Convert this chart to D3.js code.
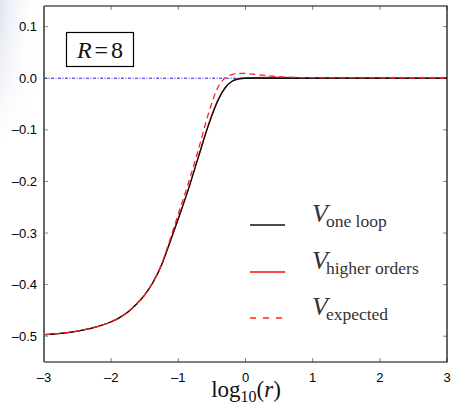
<!DOCTYPE html>
<html><head><meta charset="utf-8">
<script src="https://cdn.jsdelivr.net/npm/d3@7/dist/d3.min.js"></script>
<style>html,body{margin:0;padding:0;background:#fff;}svg{display:block;}</style>
</head><body><svg id="c" width="452" height="405"></svg>
<script>
const logR = [-3, -2.75, -2.5, -2.25, -2, -1.875, -1.75, -1.625, -1.5, -1.375, -1.25, -1.125, -1, -0.85, -0.7, -0.55, -0.4, -0.3, -0.2, -0.1, 0, 0.1, 0.25, 0.5, 0.75, 1, 1.5, 2, 2.5, 3];
const vOneLoop = [-0.497, -0.4945, -0.490, -0.483, -0.472, -0.464, -0.453, -0.438, -0.420, -0.395, -0.362, -0.318, -0.272, -0.215, -0.152, -0.090, -0.040, -0.018, -0.006, -0.001, 0, 0, 0, 0, 0, 0, 0, 0, 0, 0];
const vHigher = [-0.497, -0.4945, -0.490, -0.483, -0.472, -0.464, -0.453, -0.438, -0.420, -0.395, -0.362, -0.318, -0.272, -0.215, -0.152, -0.090, -0.040, -0.018, -0.006, -0.001, 0.0005, 0.001, 0.0015, 0.0015, 0.0013, 0.001, 0.0008, 0.0005, 0.0003, 0.0002];
const vExpected = [-0.497, -0.4945, -0.490, -0.483, -0.472, -0.464, -0.453, -0.438, -0.420, -0.394, -0.360, -0.313, -0.263, -0.203, -0.138, -0.068, -0.015, 0.001, 0.007, 0.0095, 0.0095, 0.008, 0.006, 0.003, 0.0015, 0.001, 0.0007, 0.0005, 0.0003, 0.0002];
const xTicks = [-3, -2, -1, 0, 1, 2, 3];
const yTicks = [0.1, 0.0, -0.1, -0.2, -0.3, -0.4, -0.5];

const svg = d3.select("#c");
const L = 44, R = 447, T = 6, B = 362;
const x = d3.scaleLinear().domain([-3, 3]).range([L, R]);
const y = d3.scaleLinear().domain([-0.55, 0.14]).range([B, T]);

// faint slide background at top-left
const defs = svg.append("defs");
const g1 = defs.append("linearGradient").attr("id", "bg").attr("x1", 0).attr("x2", 1).attr("y1", 0).attr("y2", 0);
g1.append("stop").attr("offset", "0").attr("stop-color", "#dfe3ef");
g1.append("stop").attr("offset", "1").attr("stop-color", "#fff").attr("stop-opacity", 0);
const g2 = defs.append("linearGradient").attr("id", "fade").attr("x1", 0).attr("x2", 0).attr("y1", 0).attr("y2", 1);
g2.append("stop").attr("offset", "0").attr("stop-color", "#fff");
g2.append("stop").attr("offset", "1").attr("stop-color", "#000");
const mask = defs.append("mask").attr("id", "m");
mask.append("rect").attr("x", 0).attr("y", 0).attr("width", 40).attr("height", 140).attr("fill", "url(#fade)");
svg.append("rect").attr("x", 0).attr("y", 0).attr("width", 40).attr("height", 140).attr("fill", "url(#bg)").attr("mask", "url(#m)");

svg.append("rect").attr("x", L).attr("y", T).attr("width", R - L).attr("height", B - T).attr("fill", "#fff");

const tickFont = "Liberation Sans, Arial, Helvetica, sans-serif";
const fmtY = d => (d < 0 ? "\u2013" : "") + Math.abs(d).toFixed(1);
const fmtX = d => (d < 0 ? "\u2013" : "") + Math.abs(d);

// inward ticks on all sides
const tl = 4;
yTicks.forEach(t => {
  svg.append("line").attr("x1", L).attr("x2", L + tl).attr("y1", y(t)).attr("y2", y(t)).attr("stroke", "#888").attr("stroke-width", 1);
  svg.append("line").attr("x1", R).attr("x2", R - tl).attr("y1", y(t)).attr("y2", y(t)).attr("stroke", "#888").attr("stroke-width", 1);
  svg.append("text").attr("x", L - 7).attr("y", y(t) + 4.5).attr("text-anchor", "end")
    .attr("font-family", tickFont).attr("font-size", 13).attr("fill", "#000").text(fmtY(t));
});
xTicks.forEach(t => {
  svg.append("line").attr("x1", x(t)).attr("x2", x(t)).attr("y1", T).attr("y2", T + tl).attr("stroke", "#888");
  svg.append("line").attr("x1", x(t)).attr("x2", x(t)).attr("y1", B).attr("y2", B - tl).attr("stroke", "#888");
  svg.append("text").attr("x", x(t)).attr("y", 382).attr("text-anchor", "middle")
    .attr("font-family", tickFont).attr("font-size", 13).attr("fill", "#000").text(fmtX(t));
});

// zero reference line
svg.append("line").attr("x1", L).attr("x2", R).attr("y1", y(0)).attr("y2", y(0))
  .attr("stroke", "#2222cc").attr("stroke-width", 1).attr("stroke-dasharray", "3,1.5,1,1.5");

const line = vals => d3.line().x((d, i) => x(logR[i])).y(d => y(d)).curve(d3.curveMonotoneX)(vals);
svg.append("path").attr("d", line(vHigher)).attr("fill", "none").attr("stroke", "#f01010").attr("stroke-width", 1.3);
svg.append("path").attr("d", line(vOneLoop)).attr("fill", "none").attr("stroke", "#111").attr("stroke-width", 1.3);
svg.append("path").attr("d", line(vExpected)).attr("fill", "none").attr("stroke", "#ff2020").attr("stroke-width", 1.3).attr("stroke-dasharray", "6,4");

// frame
svg.append("path").attr("d", `M${L},${T}H${R}V${B}H${L}`).attr("fill", "none").attr("stroke", "#000").attr("stroke-width", 1.2);
svg.append("line").attr("x1", L).attr("x2", L).attr("y1", T).attr("y2", B).attr("stroke", "#666").attr("stroke-width", 2);

// R=8 box
svg.append("rect").attr("x", 66.5).attr("y", 32.5).attr("width", 67).attr("height", 34).attr("fill", "#fff").attr("stroke", "#000").attr("stroke-width", 1.2);
const rt = svg.append("text").attr("x", 100).attr("y", 58).attr("text-anchor", "middle")
  .attr("font-family", "Liberation Serif, Times New Roman, serif").attr("font-size", 24).attr("fill", "#111");
rt.append("tspan").attr("font-style", "italic").text("R");
rt.append("tspan").attr("dx", 3).text("=");
rt.append("tspan").attr("dx", 3).text("8");

// legend
const serif = "Liberation Serif, Times New Roman, serif";
const legend = [
  {sub: "one loop", color: "#111", dash: null, y: 225},
  {sub: "higher orders", color: "#f01010", dash: null, y: 272},
  {sub: "expected", color: "#ff2020", dash: "6,7", y: 318}
];
legend.forEach(d => {
  svg.append("line").attr("x1", 250).attr("x2", 285).attr("y1", d.y).attr("y2", d.y)
    .attr("stroke", d.color).attr("stroke-width", 1.3).attr("stroke-dasharray", d.dash);
  const t = svg.append("text").attr("x", 312).attr("y", d.y - 3).attr("font-family", serif).attr("fill", "#333");
  t.append("tspan").attr("font-style", "italic").attr("font-size", 26).text("V");
  t.append("tspan").attr("font-size", 17.5).attr("dx", -2).attr("dy", 5).text(d.sub);
});

// x label
const xl = svg.append("text").attr("x", 246).attr("y", 397).attr("text-anchor", "middle")
  .attr("font-family", serif).attr("font-size", 23).attr("fill", "#111");
xl.append("tspan").text("log");
xl.append("tspan").attr("font-size", 16).attr("dy", 5).text("10");
xl.append("tspan").attr("dy", -5).text("(");
xl.append("tspan").attr("font-style", "italic").text("r");
xl.append("tspan").text(")");
</script></body></html>
